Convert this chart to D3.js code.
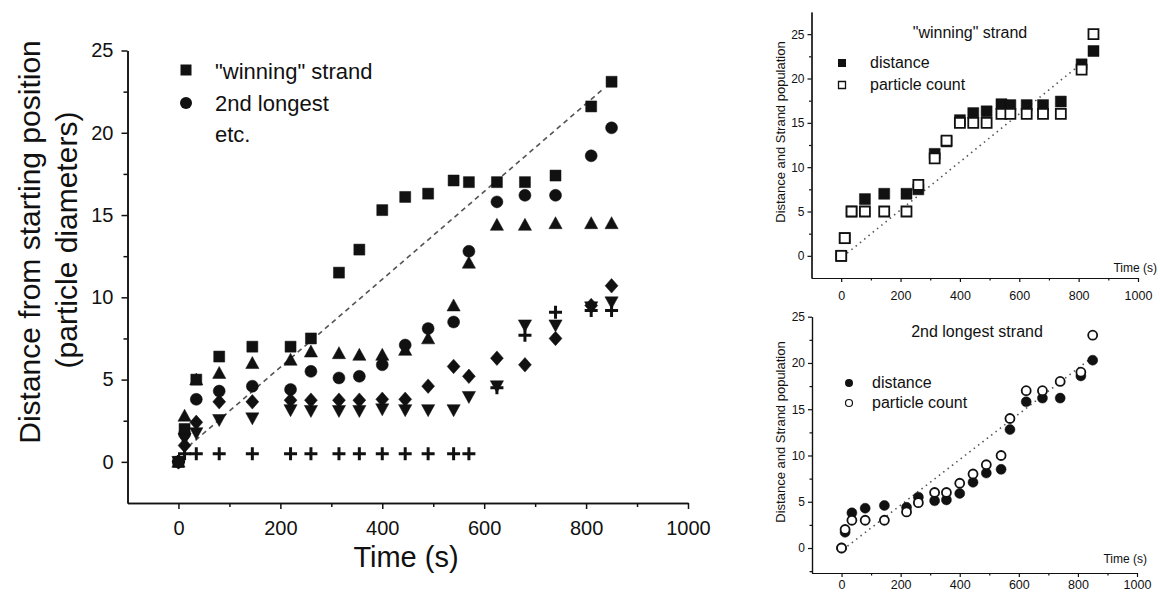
<!DOCTYPE html>
<html>
<head>
<meta charset="utf-8">
<script src="https://cdn.jsdelivr.net/npm/d3@7"></script>
<style>
  body { margin: 0; background: #fff; }
  svg text { font-family: "Liberation Sans", Arial, sans-serif; fill: #111; }
</style>
</head>
<body>
<svg id="fig" width="1160" height="592"></svg>
<script>
// time points (s) shared by every strand
const times = [0, 12, 35, 80, 145, 220, 260, 315, 355, 400, 445, 490, 540, 570, 625, 680, 740, 810, 850];

// main panel, one array per strand
const winningDist = [0, 2, 5, 6.4, 7, 7, 7.5, 11.5, 12.9, 15.3, 16.1, 16.3, 17.1, 17, 17, 17, 17.4, 21.6, 23.1];
const secondDist = [0, 1.7, 3.8, 4.3, 4.6, 4.4, 5.5, 5.1, 5.2, 5.9, 7.1, 8.1, 8.5, 12.8, 15.8, 16.2, 16.2, 18.6, 20.3];
const thirdDist = [0, 2.8, 5.0, 5.4, 6.0, 6.2, 6.7, 6.6, 6.5, 6.5, 6.8, 7.5, 9.5, 12.1, 14.4, 14.4, 14.5, 14.5, 14.5];
const fourthDist = [0, 1.0, 2.4, 3.65, 3.65, 3.75, 3.75, 3.75, 3.75, 3.8, 3.8, 4.6, 5.8, 5.2, 6.3, 5.9, 7.5, 9.5, 10.7];
const fifthDist = [0, 1.4, 1.75, 2.55, 2.65, 3.15, 3.1, 3.1, 3.1, 3.2, 3.15, 3.15, 3.15, 3.95, 4.6, 8.3, 8.3, 9.4, 9.7];
const sixthDist = [0, 0.5, 0.5, 0.5, 0.5, 0.5, 0.5, 0.5, 0.5, 0.5, 0.5, 0.5, 0.5, 0.5, 4.5, 7.7, 9.1, 9.2, 9.2];

// particle counts for the two insets
const winningCount = [0, 2, 5, 5, 5, 5, 8, 11, 13, 15, 15, 15, 16, 16, 16, 16, 16, 21, 25];
const secondCount = [0, 2, 3, 3, 3, 3.9, 4.9, 6, 6, 7, 8, 9, 10, 14, 17, 17, 18, 19, 23];

// guide lines (start / end)
const mainFitT = [20, 835], mainFitV = [0.95, 22.7];
const winFitT = [20, 810], winFitV = [0.3, 21.7];
const secFitT = [20, 840], secFitV = [0.2, 20.4];

// tick labels
const timeTicks = [0, 200, 400, 600, 800, 1000];
const timeMinor = [100, 300, 500, 700, 900];
const distTicks = [0, 5, 10, 15, 20, 25];
const distMinor = [-2.5, 2.5, 7.5, 12.5, 17.5, 22.5];

const ink = "#111";
const svg = d3.select("#fig");

// marker shapes
function shapePath(kind, s) {
  if (kind === "square") return `M${-s/2},${-s/2}h${s}v${s}h${-s}Z`;
  if (kind === "circle") { const r = s/2; return `M${r},0A${r},${r} 0 1,1 ${-r},0A${r},${r} 0 1,1 ${r},0Z`; }
  if (kind === "tri") return `M0,${-s*0.55}L${s*0.55},${s*0.45}L${-s*0.55},${s*0.45}Z`;
  if (kind === "tridown") return `M0,${s*0.55}L${s*0.55},${-s*0.45}L${-s*0.55},${-s*0.45}Z`;
  if (kind === "diamond") return `M0,${-s*0.52}L${s*0.46},0L0,${s*0.52}L${-s*0.46},0Z`;
  if (kind === "plus") return `M${-s/2},0H${s/2}M0,${-s/2}V${s/2}`;
}

function drawAxes(g, x, y, o) {
  g.append("g").attr("transform", `translate(0,${y.range()[0]})`)
    .call(d3.axisBottom(x).tickValues(timeMinor).tickSize(o.minor).tickSizeOuter(0).tickFormat(""))
    .call(a => a.selectAll("line,path").attr("stroke", ink).attr("stroke-width", o.sw));
  g.append("g").attr("transform", `translate(0,${y.range()[0]})`)
    .call(d3.axisBottom(x).tickValues(timeTicks).tickSize(o.major).tickSizeOuter(0)
      .tickPadding(o.xpad).tickFormat(d3.format("d")))
    .call(a => a.selectAll("line,path").attr("stroke", ink).attr("stroke-width", o.sw))
    .call(a => a.selectAll("text").attr("font-size", o.xfont).attr("fill", ink));
  g.append("g").attr("transform", `translate(${x.range()[0]},0)`)
    .call(d3.axisLeft(y).tickValues(distMinor.filter(v => v > y.domain()[0])).tickSize(o.minor).tickSizeOuter(0).tickFormat(""))
    .call(a => a.selectAll("line,path").attr("stroke", ink).attr("stroke-width", o.sw));
  g.append("g").attr("transform", `translate(${x.range()[0]},0)`)
    .call(d3.axisLeft(y).tickValues(distTicks).tickSize(o.major).tickSizeOuter(0)
      .tickPadding(o.ypad).tickFormat(d3.format("d")))
    .call(a => a.selectAll("line,path").attr("stroke", ink).attr("stroke-width", o.sw))
    .call(a => a.selectAll("text").attr("font-size", o.yfont).attr("fill", ink));
}

function drawSeries(g, x, y, vals, kind, size, open) {
  const pts = times.map((t, i) => ({ t, v: vals[i] }));
  g.append("g").selectAll("path").data(pts).join("path")
    .attr("transform", d => `translate(${x(d.t)},${y(d.v)})`)
    .attr("d", shapePath(kind, size))
    .attr("fill", kind === "plus" || open ? "#fff" : ink)
    .attr("fill-opacity", kind === "plus" ? 0 : 1)
    .attr("stroke", ink)
    .attr("stroke-width", kind === "plus" ? 3 : (open ? 1.8 : 0.5));
}

function drawGuide(g, x, y, ts, vs, dash, w) {
  g.append("path")
    .attr("d", d3.line()(ts.map((t, i) => [x(t), y(vs[i])])))
    .attr("fill", "none").attr("stroke", "#555")
    .attr("stroke-width", w).attr("stroke-dasharray", dash);
}

// ---------- main panel ----------
const mx = d3.scaleLinear([-100, 1000], [127.5, 688]);
const my = d3.scaleLinear([-2.5, 25], [503, 50.5]);
const mainG = svg.append("g");
drawAxes(mainG, mx, my, { major: 6, minor: 4, sw: 1.5, xpad: 12, ypad: 8, xfont: 20, yfont: 20 });
drawGuide(mainG, mx, my, mainFitT, mainFitV, "5,4", 1.6);
drawSeries(mainG, mx, my, sixthDist, "plus", 13);
drawSeries(mainG, mx, my, fifthDist, "tridown", 12);
drawSeries(mainG, mx, my, fourthDist, "diamond", 14);
drawSeries(mainG, mx, my, thirdDist, "tri", 12);
drawSeries(mainG, mx, my, secondDist, "circle", 12);
drawSeries(mainG, mx, my, winningDist, "square", 11);

mainG.append("text").attr("x", 406).attr("y", 567).attr("text-anchor", "middle")
  .attr("font-size", 29).text("Time (s)");
mainG.append("text").attr("transform", "translate(40,242) rotate(-90)").attr("text-anchor", "middle")
  .attr("font-size", 30).text("Distance from starting position");
mainG.append("text").attr("transform", "translate(77,240) rotate(-90)").attr("text-anchor", "middle")
  .attr("font-size", 30).text("(particle diameters)");

// legend
mainG.append("path").attr("transform", "translate(186,70)").attr("d", shapePath("square", 11)).attr("fill", ink);
mainG.append("path").attr("transform", "translate(186,103)").attr("d", shapePath("circle", 12)).attr("fill", ink);
[['"winning" strand', 79], ["2nd longest", 111], ["etc.", 142]].forEach(([s, yy]) =>
  mainG.append("text").attr("x", 215).attr("y", yy).attr("font-size", 22).text(s));

// ---------- inset: winning strand ----------
const ax = d3.scaleLinear([-100, 1000], [811.5, 1138]);
const ay = d3.scaleLinear([-2.5, 27.5], [278, 12]);
const topG = svg.append("g");
drawAxes(topG, ax, ay, { major: 4, minor: 2.5, sw: 1.2, xpad: 9, ypad: 3, xfont: 12.5, yfont: 12 });
drawGuide(topG, ax, ay, winFitT, winFitV, "1.5,4", 1.6);
drawSeries(topG, ax, ay, winningDist, "square", 11);
drawSeries(topG, ax, ay, winningCount, "square", 10, true);
topG.append("text").attr("x", 970).attr("y", 38).attr("text-anchor", "middle").attr("font-size", 16).text('"winning" strand');
topG.append("path").attr("transform", "translate(842,63)").attr("d", shapePath("square", 8)).attr("fill", ink);
topG.append("path").attr("transform", "translate(842,85)").attr("d", shapePath("square", 7)).attr("fill", "#fff").attr("stroke", ink).attr("stroke-width", 1.3);
topG.append("text").attr("x", 870).attr("y", 68).attr("font-size", 16).text("distance");
topG.append("text").attr("x", 870).attr("y", 90).attr("font-size", 16).text("particle count");
topG.append("text").attr("x", 1157).attr("y", 272).attr("text-anchor", "end").attr("font-size", 12).text("Time (s)");
topG.append("text").attr("transform", "translate(785,132) rotate(-90)").attr("text-anchor", "middle")
  .attr("font-size", 13).text("Distance and Strand population");

// ---------- inset: 2nd longest strand ----------
const bx = d3.scaleLinear([-100, 1000], [812, 1137]);
const by = d3.scaleLinear([-2.7, 25], [573, 316.7]);
const botG = svg.append("g");
drawAxes(botG, bx, by, { major: 4, minor: 2.5, sw: 1.2, xpad: 3, ypad: 3, xfont: 12.5, yfont: 12 });
drawGuide(botG, bx, by, secFitT, secFitV, "1.5,4", 1.6);
drawSeries(botG, bx, by, secondDist, "circle", 10);
drawSeries(botG, bx, by, secondCount, "circle", 9, true);
botG.append("text").attr("x", 977).attr("y", 337).attr("text-anchor", "middle").attr("font-size", 16).text("2nd longest strand");
botG.append("path").attr("transform", "translate(849,383)").attr("d", shapePath("circle", 8)).attr("fill", ink);
botG.append("path").attr("transform", "translate(849,403)").attr("d", shapePath("circle", 7)).attr("fill", "#fff").attr("stroke", ink).attr("stroke-width", 1.2);
botG.append("text").attr("x", 872).attr("y", 388).attr("font-size", 16).text("distance");
botG.append("text").attr("x", 872).attr("y", 408).attr("font-size", 16).text("particle count");
botG.append("text").attr("x", 1147).attr("y", 563).attr("text-anchor", "end").attr("font-size", 12).text("Time (s)");
botG.append("text").attr("transform", "translate(785,432) rotate(-90)").attr("text-anchor", "middle")
  .attr("font-size", 13).text("Distance and Strand population");
</script>
</body>
</html>
